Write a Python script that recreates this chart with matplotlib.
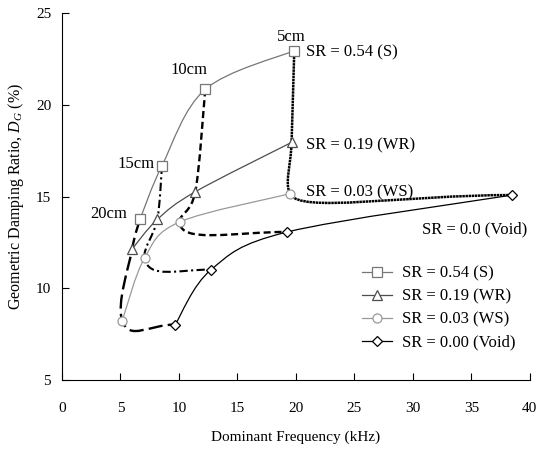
import numpy as np
import matplotlib.pyplot as plt
from matplotlib.path import Path
from matplotlib.patches import PathPatch
from matplotlib.lines import Line2D

plt.rcParams['font.family'] = ['Liberation Serif', 'DejaVu Serif']
plt.rcParams['mathtext.fontset'] = 'custom'
plt.rcParams['mathtext.rm'] = 'Liberation Serif'
plt.rcParams['mathtext.it'] = 'Liberation Serif:italic'

# ---------------------------------
# Data: 5, 10, 15, 20 cm depths
# ---------------------------------
depths = ["5cm", "10cm", "15cm", "20cm"]

freq_s = [19.86, 12.25, 8.55, 6.67]
damp_s = [22.95, 20.84, 16.68, 13.76]

freq_wr = [19.63, 11.40, 8.15, 6.00]
damp_wr = [17.95, 15.26, 13.75, 12.14]

freq_ws = [19.49, 10.05, 7.06, 5.15]
damp_ws = [15.15, 13.61, 11.65, 8.23]

freq_void = [38.50, 19.28, 12.76, 9.68]
damp_void = [15.08, 13.07, 11.02, 8.02]

labels = ["SR = 0.54 (S)", "SR = 0.19 (WR)", "SR = 0.03 (WS)", "SR = 0.00 (Void)"]
side_labels = ["SR = 0.54 (S)", "SR = 0.19 (WR)", "SR = 0.03 (WS)", "SR = 0.0 (Void)"]

# ---------------------------------
# Figure
# ---------------------------------
fig = plt.figure(figsize=(5.39, 4.49), dpi=100)
ax = fig.add_axes([0.115, 0.1537, 0.868, 0.8173])
ax.set_xlim(0, 40)
ax.set_ylim(5, 25)

BEND = 22  # pixels, how far the depth lines run on past the WS point


def smooth_path(xs, ys, corner=None):
    # bezier through the points, shaped in screen space
    pts = ax.transData.transform(np.column_stack([xs, ys]))
    n = len(pts)
    c_out, c_in = [], []
    for i in range(n):
        prev = pts[i - 1] if i > 0 else pts[i]
        nxt = pts[i + 1] if i < n - 1 else pts[i]
        t = (nxt - prev) / 6
        c_out.append(pts[i] + t)
        c_in.append(pts[i] - t)
    if corner is not None:
        k = corner
        a, b, c = pts[k - 1], pts[k], pts[k + 1]
        l_in = np.linalg.norm(b - a)
        l_out = np.linalg.norm(c - b)
        u = 2 * (b - a) / l_in + (c - b) / l_out
        u = u / np.linalg.norm(u)
        c_in[k] = b - u * l_in / 4
        c_out[k] = b + u * BEND
        c_in[-1] = pts[-1] - np.array([(pts[-1][0] - b[0]) / 2, 0])
    verts = [pts[0]]
    codes = [Path.MOVETO]
    for i in range(n - 1):
        verts += [c_out[i], c_in[i + 1], pts[i + 1]]
        codes += [Path.CURVE4] * 3
    verts = ax.transData.inverted().transform(np.array(verts))
    return Path(verts, codes)


series = [
    (freq_s, damp_s, "s", "#767676"),
    (freq_wr, damp_wr, "^", "#4d4d4d"),
    (freq_ws, damp_ws, "o", "#999999"),
    (freq_void, damp_void, "D", "black"),
]
msizes = {"s": 6.5, "^": 6.5, "o": 6.5, "D": 5}

handles = []
for (fx, dy, mk, col), lab in zip(series, labels):
    x = fx[::-1]
    y = dy[::-1]
    ax.add_patch(PathPatch(smooth_path(x, y), fill=False, edgecolor=col,
                           lw=0.9, zorder=2))
    ax.plot(x, y, linestyle="none", marker=mk, ms=msizes[mk], mfc="white",
            mec=col, mew=0.9, zorder=4)
    handles.append(Line2D([0], [0], color=col, lw=0.9, marker=mk,
                          ms=msizes[mk], mfc="white", mec=col, mew=0.9))

# constant-depth lines across the series
depth_styles = [
    ((0, (1, 0.25)), 1.8),
    ((0, (3, 1.6)), 1.7),
    ((0, (4, 1.6, 1, 1.6)), 1.5),
    ((0, (6, 2.2)), 1.7),
]
for i in range(4):
    x = [freq_s[i], freq_wr[i], freq_ws[i], freq_void[i]]
    y = [damp_s[i], damp_wr[i], damp_ws[i], damp_void[i]]
    ls, lw = depth_styles[i]
    ax.add_patch(PathPatch(smooth_path(x, y, corner=2), fill=False,
                           edgecolor="black", lw=lw, linestyle=ls,
                           capstyle="butt", zorder=3))

# depth labels
ax.text(19.6, 23.7, depths[0], fontsize=12, ha="center", va="center")
ax.text(10.85, 21.9, depths[1], fontsize=12, ha="center", va="center")
ax.text(7.95, 16.77, depths[2], fontsize=12, ha="right", va="center")
ax.text(5.55, 14.05, depths[3], fontsize=12, ha="right", va="center")

# series labels beside the curves
ax.text(20.85, 22.84, side_labels[0], fontsize=12, va="center")
ax.text(20.85, 17.8, side_labels[1], fontsize=12, va="center")
ax.text(20.85, 15.2, side_labels[2], fontsize=12, va="center")
ax.text(30.8, 13.2, side_labels[3], fontsize=12, va="center")

ax.legend(handles, labels, loc="upper left", bbox_to_anchor=(0.628, 0.33),
          frameon=False, fontsize=12, handlelength=1.75, handletextpad=0.6,
          labelspacing=0.42, borderaxespad=0)

ax.spines["top"].set_visible(False)
ax.spines["right"].set_visible(False)
ax.set_xticks(np.arange(0, 41, 5))
ax.set_yticks(np.arange(5, 26, 5))
ax.tick_params(direction="in", length=5, labelsize=11)
ax.tick_params(axis="x", pad=15.8)
ax.tick_params(axis="y", pad=7.8)

ax.set_xlabel("Dominant Frequency (kHz)", fontsize=11, labelpad=11.5)
ax.set_ylabel("Geometric Damping Ratio, $D_G$ (%)", fontsize=11.5, labelpad=7)

fig.savefig("out.png", dpi=100)
